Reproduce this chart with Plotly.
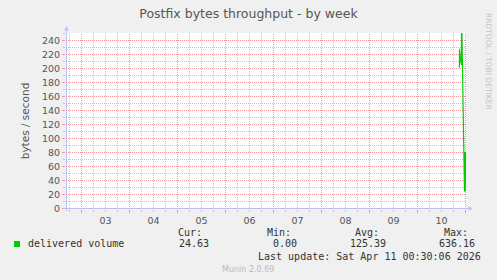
import datetime as dt
import plotly.graph_objects as go

# ---- data ----
spike_times = ["2026-04-10 20:59", "2026-04-10 21:00", "2026-04-10 21:30",
               "2026-04-10 22:00", "2026-04-10 22:04", "2026-04-10 22:08",
               "2026-04-10 23:30", "2026-04-10 23:33", "2026-04-11 00:05",
               "2026-04-11 00:07", "2026-04-11 00:10"]
spike_values = [201, 228, 212, 205, 636.16, 262, 24, 80, 80, 45, 24.63]

y_ticks = [0, 20, 40, 60, 80, 100, 120, 140, 160, 180, 200, 220, 240]
day_ticks = ["2026-04-03", "2026-04-04", "2026-04-05", "2026-04-06",
             "2026-04-07", "2026-04-08", "2026-04-09", "2026-04-10", "2026-04-11"]
x_range = ["2026-04-02 16:15", "2026-04-11 00:15"]
y_range = [-0.714, 250.714]

legend_name = "delivered volume"
stat_labels = ["Cur:", "Min:", "Avg:", "Max:"]
stat_values = ["24.63", "0.00", "125.39", "636.16"]
last_update = "Last update: Sat Apr 11 00:30:06 2026"

# 6-hourly minor grid positions (not at midnight)
six_hour_ticks = []
for d in ["2026-04-02"] + day_ticks[:-1]:
    base = dt.datetime.fromisoformat(d)
    for h in (6, 12, 18):
        six_hour_ticks.append((base + dt.timedelta(hours=h)).strftime("%Y-%m-%d %H:%M"))

# ---- layout geometry ----
W, H = 497, 280
L, T = 66, 33
PW, PH = 400, 176
R = W - L - PW
B = H - T - PH

def px(x):
    return (x - L) / PW

def py(y):
    return (T + PH - y) / PH

GREEN = "#00CC00"
MAJ = "rgb(240,150,150)"
MIN = "rgb(200,200,200)"
AXIS = "#C0C0F0"
DASH = "1px,1px"
TICKFONT = dict(family="DejaVu Sans", size=9.5, color="#555555")

fig = go.Figure()
fig.add_trace(go.Scatter(x=spike_times, y=spike_values, mode="lines",
                         line=dict(color=GREEN, width=1.2), showlegend=False,
                         hoverinfo="skip"))

fig.update_layout(
    width=W, height=H,
    margin=dict(l=L, r=R, t=T, b=B, pad=0),
    paper_bgcolor="#F0F0F0", plot_bgcolor="#FFFFFF",
    font=dict(family="DejaVu Sans", size=9.5, color="#555555"),
    title=dict(text="Postfix bytes throughput - by week", x=0.5, xanchor="center",
               y=1 - 14 / H, yanchor="middle",
               font=dict(family="DejaVu Sans", size=12.5, color="#555555")),
    showlegend=False,
    xaxis=dict(
        type="date", range=x_range, tickvals=six_hour_ticks,
        showticklabels=False,
        showgrid=True, gridcolor=MIN, griddash=DASH, gridwidth=1,
        ticks="outside", ticklen=2, tickcolor=MIN,
        showline=False, zeroline=False,
    ),
    xaxis2=dict(
        type="date", range=x_range, overlaying="x", side="bottom", anchor="y",
        dtick=86400000, tick0="2026-04-03", tickformat="%d", ticklabelmode="period",
        showgrid=False,
        ticks="outside", ticklen=3, tickcolor=MAJ,
        showline=False, zeroline=False, tickfont=TICKFONT,
    ),
    yaxis=dict(
        range=y_range, tickvals=y_ticks,
        showgrid=True, gridcolor=MAJ, griddash=DASH, gridwidth=1,
        ticks="outside", ticklen=3, tickcolor=MAJ,
        showline=False, zeroline=False, tickfont=TICKFONT,
        title=dict(text="bytes / second", standoff=10,
                   font=dict(family="DejaVu Sans", size=10.5, color="#555555")),
        minor=dict(dtick=10, showgrid=True, gridcolor=MIN, griddash=DASH,
                   gridwidth=1, ticks="outside", ticklen=2, tickcolor=MIN),
    ),
)
# invisible helper trace so xaxis2 is drawn
fig.add_trace(go.Scatter(x=[x_range[0]], y=[None], xaxis="x2", yaxis="y",
                         mode="lines", showlegend=False, hoverinfo="skip"))

# red day grid lines at midnights
for d in day_ticks:
    fig.add_shape(type="line", xref="x", yref="paper", x0=d, x1=d, y0=0, y1=1,
                  line=dict(color=MAJ, width=1, dash=DASH), layer="below")

# axis lines (decoration)
fig.add_shape(type="line", xref="paper", yref="paper",
              x0=px(66.5), x1=px(66.5), y0=py(211), y1=py(30),
              line=dict(color=AXIS, width=1), layer="above")
fig.add_shape(type="line", xref="paper", yref="paper",
              x0=px(63), x1=px(468), y0=py(208.5), y1=py(208.5),
              line=dict(color=AXIS, width=1), layer="above")

anns = []
anns.append(dict(xref="paper", yref="paper", x=px(66.5), y=py(26), ax=0, ay=6,
                 showarrow=True, arrowhead=2, arrowsize=0.9, arrowwidth=1,
                 arrowcolor=AXIS, text=""))
anns.append(dict(xref="paper", yref="paper", x=px(473), y=py(208.5), ax=-6, ay=0,
                 showarrow=True, arrowhead=2, arrowsize=0.9, arrowwidth=1,
                 arrowcolor=AXIS, text=""))
anns.append(dict(xref="paper", yref="paper", x=px(488), y=py(61), text="RRDTOOL / TOBI OETIKER",
                 textangle=90, showarrow=False, xanchor="center", yanchor="middle",
                 font=dict(family="DejaVu Sans", size=7.5, color="#C4C4C4")))
mono = dict(family="DejaVu Sans Mono", size=10, color="#333333")
anns.append(dict(xref="paper", yref="paper", x=px(26), y=py(244), text=legend_name,
                 showarrow=False, xanchor="left", yanchor="middle", font=mono))
label_right = [204, 293, 381, 470]
value_right = [211, 299, 388, 477]
for lab, xr in zip(stat_labels, label_right):
    anns.append(dict(xref="paper", yref="paper", x=px(xr), y=py(233), text=lab,
                     showarrow=False, xanchor="right", yanchor="middle", font=mono))
for val, xr in zip(stat_values, value_right):
    anns.append(dict(xref="paper", yref="paper", x=px(xr), y=py(244), text=val,
                     showarrow=False, xanchor="right", yanchor="middle", font=mono))
anns.append(dict(xref="paper", yref="paper", x=px(483), y=py(256), text=last_update,
                 showarrow=False, xanchor="right", yanchor="middle", font=mono))
anns.append(dict(xref="paper", yref="paper", x=px(248), y=py(269), text="Munin 2.0.69",
                 showarrow=False, xanchor="center", yanchor="middle",
                 font=dict(family="DejaVu Sans", size=8, color="#BBBBBB")))
fig.update_layout(annotations=anns)

fig.add_shape(type="rect", xref="paper", yref="paper",
              x0=px(14), x1=px(20), y0=py(247), y1=py(241),
              fillcolor=GREEN, line=dict(width=0))

fig.write_html("out.html")
